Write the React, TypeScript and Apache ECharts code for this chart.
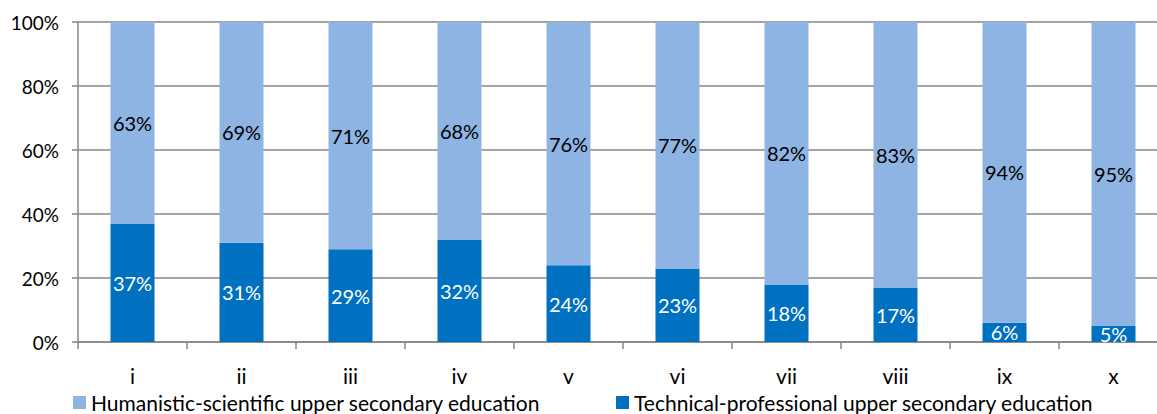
import React, { useEffect, useRef } from "react";
import * as echarts from "echarts";

const categories = ["i", "ii", "iii", "iv", "v", "vi", "vii", "viii", "ix", "x"];
const humanistic = [63, 69, 71, 68, 76, 77, 82, 83, 94, 95];
const technical = [37, 31, 29, 32, 24, 23, 18, 17, 6, 5];
const yTicks = [0, 20, 40, 60, 80, 100];

const HUM = "Humanistic-scientific upper secondary education";
const TEC = "Technical-professional upper secondary education";
const FONT = "Lato";

export default function App() {
  const ref = useRef<HTMLDivElement>(null);
  useEffect(() => {
    if (!ref.current) return;
    const chart = echarts.init(ref.current, null, { renderer: "svg" });
    chart.setOption({
      animation: false,
      textStyle: { fontFamily: FONT },
      grid: {
        left: 78,
        top: 22,
        height: 320,
        width: 1090,
        containLabel: false,
        outerBoundsMode: "none",
      },
      legend: [
        {
          data: [HUM],
          left: 73,
          top: 392,
          padding: 0,
          icon: "rect",
          itemWidth: 13,
          itemHeight: 13,
          itemGap: 5,
          textStyle: { fontFamily: FONT, fontSize: 21, color: "#000" },
        },
        {
          data: [TEC],
          left: 616,
          top: 392,
          padding: 0,
          icon: "rect",
          itemWidth: 13,
          itemHeight: 13,
          textStyle: { fontFamily: FONT, fontSize: 21, color: "#000" },
        },
      ],
      xAxis: {
        type: "category",
        data: categories,
        boundaryGap: true,
        axisLine: { show: true, lineStyle: { color: "#868686", width: 1.5 } },
        axisTick: { show: true, length: 7, alignWithLabel: false, lineStyle: { color: "#868686", width: 1.5 } },
        axisLabel: { margin: 23, fontSize: 21, color: "#000", fontFamily: FONT },
      },
      yAxis: {
        type: "value",
        min: 0,
        max: 100,
        interval: 20,
        axisLine: { show: true, lineStyle: { color: "#868686", width: 1.5 } },
        axisTick: { show: true, length: 6, lineStyle: { color: "#868686", width: 1.5 } },
        axisLabel: {
          margin: 19,
          fontSize: 19,
          color: "#000",
          fontFamily: FONT,
          formatter: (v: number) => (yTicks.includes(v) ? v + "%" : ""),
        },
        splitLine: { show: true, lineStyle: { color: "#868686", width: 1.5 } },
      },
      series: [
        {
          name: TEC,
          type: "bar",
          stack: "total",
          barWidth: 44,
          data: technical,
          itemStyle: { color: "#0070C0" },
          label: {
            show: true,
            position: "inside",
            formatter: "{c}%",
            color: "#fff",
            fontSize: 20,
            fontFamily: FONT,
          },
        },
        {
          name: HUM,
          type: "bar",
          stack: "total",
          barWidth: 44,
          data: humanistic,
          itemStyle: { color: "#8EB4E3" },
          label: {
            show: true,
            position: "inside",
            formatter: "{c}%",
            color: "#000",
            fontSize: 20,
            fontFamily: FONT,
          },
        },
      ],
    });
    return () => chart.dispose();
  }, []);
  return (
    <div
      ref={ref}
      style={{ position: "fixed", left: 0, top: 0, width: 1157, height: 414, background: "#fff", overflow: "hidden" }}
    />
  );
}
